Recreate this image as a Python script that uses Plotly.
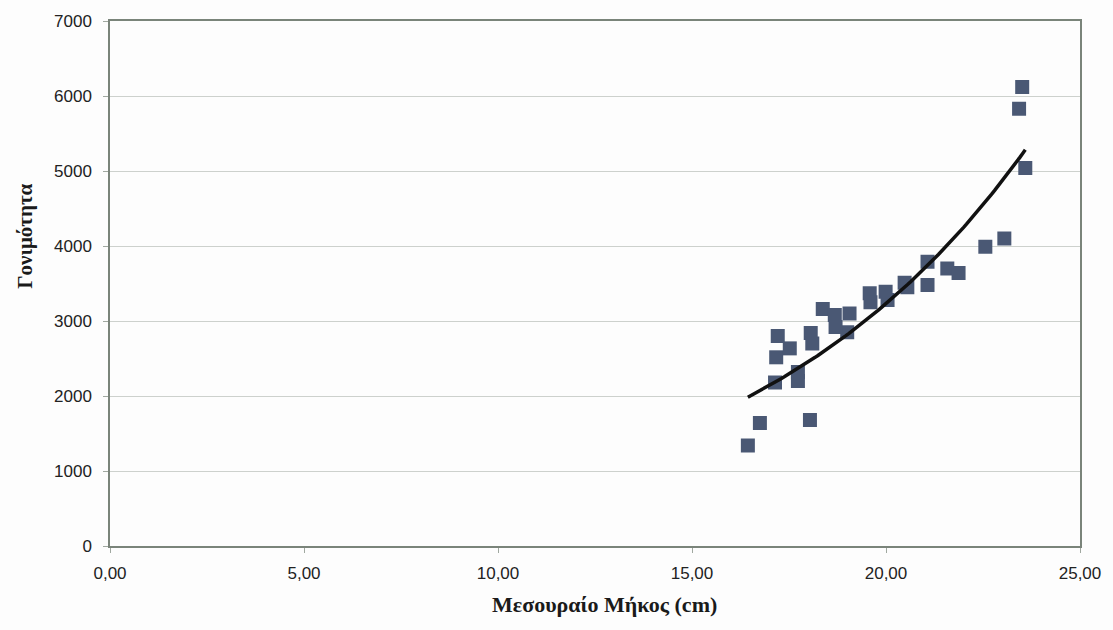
import numpy as np
import plotly.graph_objects as go

length_cm = [16.44, 16.75, 18.04, 17.14, 17.73, 17.73, 17.17, 17.52, 17.21, 18.06,
             18.10, 18.37, 18.68, 19.06, 19.00, 18.70, 19.58, 19.60, 19.99, 20.04,
             20.48, 20.55, 21.07, 21.07, 21.58, 21.87, 22.56, 23.05, 23.43, 23.51, 23.59]
fecundity = [1340, 1640, 1680, 2180, 2200, 2320, 2516, 2635, 2800, 2840,
             2700, 3160, 3080, 3100, 2850, 2920, 3370, 3250, 3390, 3280,
             3510, 3450, 3790, 3480, 3700, 3640, 3990, 4100, 5830, 6120, 5040]

x_tickvals = [0, 5, 10, 15, 20, 25]
x_ticktext = ["0,00", "5,00", "10,00", "15,00", "20,00", "25,00"]
y_tickvals = [0, 1000, 2000, 3000, 4000, 5000, 6000, 7000]

# exponential trendline (Excel style: linear fit on ln y)
xa = np.array(length_cm)
ya = np.array(fecundity)
b, lna = np.polyfit(xa, np.log(ya), 1)
xt = np.linspace(xa.min(), xa.max(), 100)
yt = np.exp(lna) * np.exp(b * xt)

fig = go.Figure()
fig.add_trace(go.Scatter(
    x=length_cm, y=fecundity, mode="markers",
    marker=dict(symbol="square", size=14, color="#4a5874"),
    showlegend=False))
fig.add_trace(go.Scatter(
    x=xt, y=yt, mode="lines",
    line=dict(color="#111111", width=3.5),
    showlegend=False))

tick_font = dict(family="Liberation Sans, Arial", size=17, color="#222222")
title_font = dict(family="Liberation Serif, Times New Roman", size=21, color="#1a1a1a")

fig.update_layout(
    width=1113, height=630,
    margin=dict(l=110, r=30, t=20, b=84),
    paper_bgcolor="#fdfdfd", plot_bgcolor="#fdfdfd",
    xaxis=dict(
        range=[0, 25], tickvals=x_tickvals, ticktext=x_ticktext,
        showgrid=False, zeroline=False,
        showline=True, linecolor="#7a847a", linewidth=1.5, mirror=True,
        ticks="outside", ticklen=5, tickcolor="#a0a8a0",
        tickfont=tick_font, ticklabelstandoff=6,
    ),
    yaxis=dict(
        range=[0, 7000], tickvals=y_tickvals,
        showgrid=True, gridcolor="#cdd1cd", gridwidth=1, zeroline=False,
        showline=True, linecolor="#7a847a", linewidth=1.5, mirror=True,
        ticks="outside", ticklen=5, tickcolor="#a0a8a0",
        tickfont=tick_font, ticklabelstandoff=8,
    ),
    annotations=[
        dict(text="<b>Μεσουραίο Μήκος (cm)</b>", xref="paper", yref="paper",
             x=0.51, y=-0.112, xanchor="center", yanchor="middle",
             showarrow=False, font=dict(family="Liberation Serif, Times New Roman",
                                        size=22, color="#1a1a1a")),
        dict(text="<b>Γονιμότητα</b>", xref="paper", yref="paper",
             x=-0.087, y=0.59, xanchor="center", yanchor="middle", textangle=-90,
             showarrow=False, font=title_font),
    ],
)

fig.write_html("out.html")
